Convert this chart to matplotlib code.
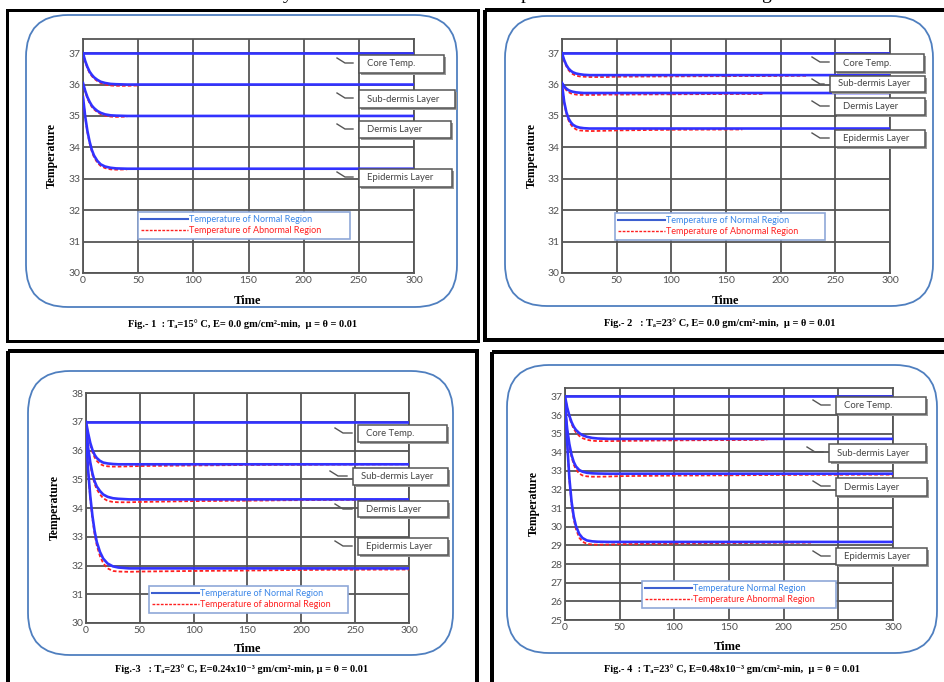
import matplotlib
matplotlib.use('Agg')
import matplotlib.pyplot as plt
from matplotlib.patches import FancyBboxPatch, Rectangle
from matplotlib.lines import Line2D
from matplotlib.transforms import Affine2D

W, H = 944, 682

# ---- data ----
TIME = [0, 2, 4, 6, 8, 10, 13, 16, 20, 25, 30, 40, 50, 100, 165, 185, 225, 300]
CORE_TIME = [0, 300]
CORE_TEMP = [37.0, 37.0]
X_TICKS = [0, 50, 100, 150, 200, 250, 300]
LAYER_NAMES = ["Core Temp.", "Sub-dermis Layer", "Dermis Layer", "Epidermis Layer"]

# Fig-1 (Ta=15, E=0.0)
F1_SUB_N = [37.0, 36.75, 36.56, 36.41, 36.31, 36.23, 36.15, 36.09, 36.05, 36.02, 36.01, 36.0, 36.0, 36.0, 36.0, 36.0, 36.0, 36.0]
F1_DERM_N = [36.05, 35.8, 35.6, 35.45, 35.33, 35.25, 35.16, 35.1, 35.05, 35.02, 35.01, 35.0, 35.0, 35.0, 35.0, 35.0, 35.0, 35.0]
F1_EPI_N = [35.6, 34.98, 34.52, 34.18, 33.92, 33.74, 33.57, 33.46, 33.39, 33.35, 33.33, 33.32, 33.32, 33.32, 33.32, 33.32, 33.32, 33.32]
F1_SUB_A = [37.0, 36.72, 36.52, 36.37, 36.27, 36.19, 36.11, 36.05, 36.0, 35.97, 35.96, 35.96, 35.97]
F1_DERM_A = [36.05, 35.77, 35.56, 35.41, 35.29, 35.21, 35.12, 35.06, 35.01, 34.98, 34.97, 34.98]
F1_EPI_A = [35.6, 34.95, 34.48, 34.13, 33.87, 33.69, 33.51, 33.41, 33.34, 33.3, 33.29, 33.3]

# Fig-2 (Ta=23, E=0.0)
F2_SUB_N = [37.0, 36.78, 36.62, 36.51, 36.44, 36.39, 36.35, 36.33, 36.31, 36.3, 36.3, 36.3, 36.3, 36.3, 36.3, 36.3, 36.3, 36.3]
F2_DERM_N = [36.05, 35.94, 35.87, 35.82, 35.79, 35.77, 35.75, 35.74, 35.73, 35.73, 35.73, 35.73, 35.73, 35.73, 35.73, 35.73, 35.73, 35.73]
F2_EPI_N = [36.0, 35.45, 35.12, 34.92, 34.8, 34.72, 34.66, 34.63, 34.61, 34.6, 34.6, 34.6, 34.6, 34.6, 34.6, 34.6, 34.6, 34.6]
F2_SUB_A = [37.0, 36.75, 36.58, 36.46, 36.38, 36.33, 36.28, 36.26, 36.25, 36.24, 36.24, 36.24, 36.25, 36.26, 36.27, 36.27, 36.28]
F2_DERM_A = [36.05, 35.91, 35.82, 35.76, 35.72, 35.7, 35.68, 35.67, 35.67, 35.67, 35.67, 35.68, 35.68, 35.69, 35.7, 35.7]
F2_EPI_A = [36.0, 35.42, 35.07, 34.86, 34.73, 34.64, 34.57, 34.54, 34.53, 34.52, 34.52, 34.53, 34.54, 34.56, 34.57]

# Fig-3 (Ta=23, E=0.24e-3)
F3_SUB_N = [37.0, 36.6, 36.26, 36.02, 35.85, 35.74, 35.64, 35.58, 35.55, 35.53, 35.52, 35.52, 35.52, 35.52, 35.52, 35.52, 35.52, 35.52]
F3_DERM_N = [36.8, 36.09, 35.58, 35.2, 34.93, 34.75, 34.59, 34.47, 34.39, 34.34, 34.32, 34.3, 34.3, 34.3, 34.3, 34.3, 34.3, 34.3]
F3_EPI_N = [36.6, 35.3, 34.4, 33.72, 33.2, 32.82, 32.47, 32.24, 32.07, 31.97, 31.93, 31.9, 31.9, 31.9, 31.9, 31.9, 31.9, 31.9]
F3_SUB_A = [37.0, 36.55, 36.2, 35.94, 35.76, 35.64, 35.53, 35.48, 35.45, 35.44, 35.44, 35.45, 35.46, 35.48, 35.5, 35.5, 35.51, 35.52]
F3_DERM_A = [36.8, 36.05, 35.52, 35.12, 34.84, 34.65, 34.47, 34.34, 34.25, 34.21, 34.2, 34.2, 34.21, 34.24, 34.26, 34.27, 34.28, 34.29]
F3_EPI_A = [36.6, 35.25, 34.32, 33.62, 33.09, 32.7, 32.32, 32.08, 31.9, 31.81, 31.79, 31.78, 31.79, 31.81, 31.83, 31.84, 31.85, 31.86]

# Fig-4 (Ta=23, E=0.48e-3)
F4_SUB_N = [37.0, 36.4, 35.96, 35.62, 35.37, 35.2, 35.03, 34.92, 34.83, 34.77, 34.74, 34.72, 34.72, 34.72, 34.72, 34.72, 34.72, 34.72]
F4_DERM_N = [36.4, 35.25, 34.43, 33.86, 33.48, 33.24, 33.05, 32.96, 32.9, 32.87, 32.86, 32.85, 32.85, 32.85, 32.85, 32.85, 32.85, 32.85]
F4_EPI_N = [36.8, 34.5, 32.6, 31.35, 30.55, 30.05, 29.62, 29.4, 29.27, 29.22, 29.2, 29.19, 29.19, 29.19, 29.19, 29.19, 29.19, 29.19]
F4_SUB_A = [37.0, 36.35, 35.88, 35.52, 35.26, 35.07, 34.88, 34.76, 34.67, 34.62, 34.6, 34.6, 34.61, 34.64, 34.66, 34.67]
F4_DERM_A = [36.4, 35.2, 34.35, 33.75, 33.34, 33.08, 32.86, 32.76, 32.71, 32.69, 32.69, 32.7, 32.72, 32.75, 32.77, 32.78, 32.79, 32.8]
F4_EPI_A = [36.8, 34.45, 32.5, 31.22, 30.4, 29.88, 29.42, 29.2, 29.09, 29.05, 29.04, 29.05, 29.07, 29.1, 29.13, 29.14, 29.15]

CAPTIONS = [
    "Fig.- 1  : Tₐ=15° C, E= 0.0 gm/cm²-min,  μ = θ = 0.01",
    "Fig.- 2   : Tₐ=23° C, E= 0.0 gm/cm²-min,  μ = θ = 0.01",
    "Fig.-3   : Tₐ=23° C, E=0.24x10⁻³ gm/cm²-min, μ = θ = 0.01",
    "Fig.- 4  : Tₐ=23° C, E=0.48x10⁻³ gm/cm²-min,  μ = θ = 0.01",
]
LEGEND_LABELS = [
    ("Temperature of Normal Region", "Temperature of Abnormal Region"),
    ("Temperature of Normal Region", "Temperature of Abnormal Region"),
    ("Temperature of Normal Region", "Temperature of abnormal Region"),
    ("Temperature Normal Region", "Temperature Abnormal Region"),
]

panels = [
    dict(normal=[F1_SUB_N, F1_DERM_N, F1_EPI_N], abnormal=[F1_SUB_A, F1_DERM_A, F1_EPI_A],
         ylim=(30, 37.45), yticks=list(range(30, 38))),
    dict(normal=[F2_SUB_N, F2_DERM_N, F2_EPI_N], abnormal=[F2_SUB_A, F2_DERM_A, F2_EPI_A],
         ylim=(30, 37.45), yticks=list(range(30, 38))),
    dict(normal=[F3_SUB_N, F3_DERM_N, F3_EPI_N], abnormal=[F3_SUB_A, F3_DERM_A, F3_EPI_A],
         ylim=(30, 38), yticks=list(range(30, 39))),
    dict(normal=[F4_SUB_N, F4_DERM_N, F4_EPI_N], abnormal=[F4_SUB_A, F4_DERM_A, F4_EPI_A],
         ylim=(25, 37.45), yticks=list(range(25, 38))),
]

# ---- page layout, in image pixels (origin top-left) ----
layout = [
    dict(frame=(7, 10, 478, 341), lw=3, rbox=(26, 15, 457, 307), axes=(83, 39, 414, 273),
         ylab=(58, 155), xlab=(248, 295), cap=(243, 324), leg=(138, 212, 212, 29),
         boxes=[(359, 55, 444, 73), (359, 90, 455, 108), (359, 121, 451, 138), (359, 169, 452, 187)],
         lead_x=[337, 337, 337, 337]),
    dict(frame=(485, 10, 960, 340), lw=4, rbox=(505, 16, 933, 306), axes=(562, 39, 890, 273),
         ylab=(538, 155), xlab=(726, 295), cap=(720, 323), leg=(615, 213, 210, 28),
         boxes=[(835, 54, 924, 72), (830, 76, 925, 92), (835, 98, 925, 115), (835, 130, 925, 147)],
         lead_x=[812, 812, 812, 812]),
    dict(frame=(8, 351, 477, 700), lw=4, rbox=(28, 371, 453, 655), axes=(86, 393, 409, 623),
         ylab=(61, 508), xlab=(247, 643), cap=(242, 669), leg=(149, 586, 199, 28),
         boxes=[(358, 425, 447, 442), (353, 468, 448, 485), (358, 501, 448, 517), (358, 538, 448, 555)],
         lead_x=[335, 330, 335, 335]),
    dict(frame=(492, 352, 960, 700), lw=4, rbox=(507, 365, 937, 653), axes=(565, 388, 893, 620),
         ylab=(540, 503), xlab=(728, 641), cap=(732, 669), leg=(642, 581, 194, 28),
         boxes=[(836, 397, 926, 414), (829, 444, 926, 462), (836, 478, 927, 496), (836, 548, 927, 565)],
         lead_x=[813, 807, 813, 813]),
]

SERIF = ['Liberation Serif', 'DejaVu Serif']
SANS = ['Lato', 'DejaVu Sans']
BLUE = '#3232ff'
RED = '#ff2020'
GRID = '#555555'

fig = plt.figure(figsize=(W / 100, H / 100), dpi=100)
fig.patch.set_facecolor('white')
# transform for pixel positions measured from the top-left corner
PX = Affine2D().scale(1 / 100, -1 / 100).translate(0, H / 100) + fig.dpi_scale_trans

# descenders of the line of text above the figures (cut by the page edge, as in the scan)
for ch, x in [('y', 283), ('p', 521), ('g', 761)]:
    fig.text(x, -1, ch, transform=PX, fontsize=14, family=SERIF, va='baseline', color='black')

for pdata, lay, cap, leg_labels in zip(panels, layout, CAPTIONS, LEGEND_LABELS):
    # 1. black outer frame and rounded blue box
    x0, y0, x1, y1 = lay['frame']
    fig.add_artist(Rectangle((x0, y0), x1 - x0, y1 - y0, transform=PX, fill=False,
                             ec='black', lw=lay['lw'] * 0.72, zorder=-2))
    x0, y0, x1, y1 = lay['rbox']
    fig.add_artist(FancyBboxPatch((x0, y0), x1 - x0, y1 - y0, transform=PX,
                                  boxstyle='round,pad=0,rounding_size=42', fill=False,
                                  ec='#4f7fbf', lw=1.3, zorder=-1))

    # 2. the plot itself
    ax0, ay0, ax1, ay1 = lay['axes']
    ax = fig.add_axes([ax0 / W, 1 - ay1 / H, (ax1 - ax0) / W, (ay1 - ay0) / H])
    ax.set_xlim(0, 300)
    ax.set_ylim(*pdata['ylim'])
    ax.set_xticks(X_TICKS)
    ax.set_yticks(pdata['yticks'])
    ax.grid(True, color=GRID, lw=1.3)
    ax.set_axisbelow(True)
    for sp in ax.spines.values():
        sp.set_color(GRID)
        sp.set_linewidth(1.3)
    ax.tick_params(length=0, pad=2, labelsize=7.5, labelcolor='#505050')
    for lbl in ax.get_xticklabels() + ax.get_yticklabels():
        lbl.set_family(SANS)

    for vals in pdata['abnormal']:
        ax.plot(TIME[:len(vals)], vals, color=RED, lw=1.3, ls=(0, (2, 1.2)), zorder=3)
    ax.plot(CORE_TIME, CORE_TEMP, color=BLUE, lw=1.9, zorder=4)
    for vals in pdata['normal']:
        ax.plot(TIME[:len(vals)], vals, color=BLUE, lw=1.9, zorder=4)

    ax.set_ylabel('Temperature', fontsize=8.5, fontweight='bold', family=SERIF)
    ax.yaxis.set_label_coords(*lay['ylab'], transform=PX)
    ax.set_xlabel('Time', fontsize=9, fontweight='bold', family=SERIF)
    ax.xaxis.set_label_coords(*lay['xlab'], transform=PX)

    # 3. legend box
    lx, ly, lw_, lh = lay['leg']
    handles = [Line2D([], [], color='#3c5fd0', lw=1.5),
               Line2D([], [], color=RED, lw=1.0, ls=(0, (2, 1)))]
    leg = ax.legend(handles, leg_labels, loc='upper left', mode='expand',
                    bbox_to_anchor=(lx, ly, lw_, -lh), bbox_transform=PX,
                    prop={'family': SANS, 'size': 6.5}, labelcolor=['#3a86e8', RED],
                    handlelength=5.2, handletextpad=0.1, borderpad=0.35, labelspacing=0.25,
                    fancybox=False, framealpha=1, edgecolor='#8fa8d8', borderaxespad=0)
    leg.get_frame().set_linewidth(1.2)

    # 4. layer name call-outs
    for name, box, lead in zip(LAYER_NAMES, lay['boxes'], lay['lead_x']):
        bx0, by0, bx1, by1 = box
        fig.add_artist(Rectangle((bx0 + 2, by0 + 2), bx1 - bx0, by1 - by0, transform=PX,
                                 fc='#9a9a9a', ec='none', zorder=5))
        fig.add_artist(Rectangle((bx0, by0), bx1 - bx0, by1 - by0, transform=PX,
                                 fc='white', ec='#555555', lw=1.1, zorder=6))
        fig.text(bx0 + 8, (by0 + by1) / 2, name, transform=PX, fontsize=6.8, family=SANS,
                 color='#444444', va='center', ha='left', zorder=7)
        fig.add_artist(Line2D([lead, lead + 8, bx0 - 6], [by0 + 3, by0 + 8, by0 + 8], transform=PX,
                              color='#555555', lw=1.0, zorder=6))

    # 5. caption under the box
    fig.text(*lay['cap'], cap, transform=PX, ha='center', va='center', fontsize=7.5,
             fontweight='bold', family=SERIF)

fig.savefig('out.png', dpi=100, facecolor='white')
